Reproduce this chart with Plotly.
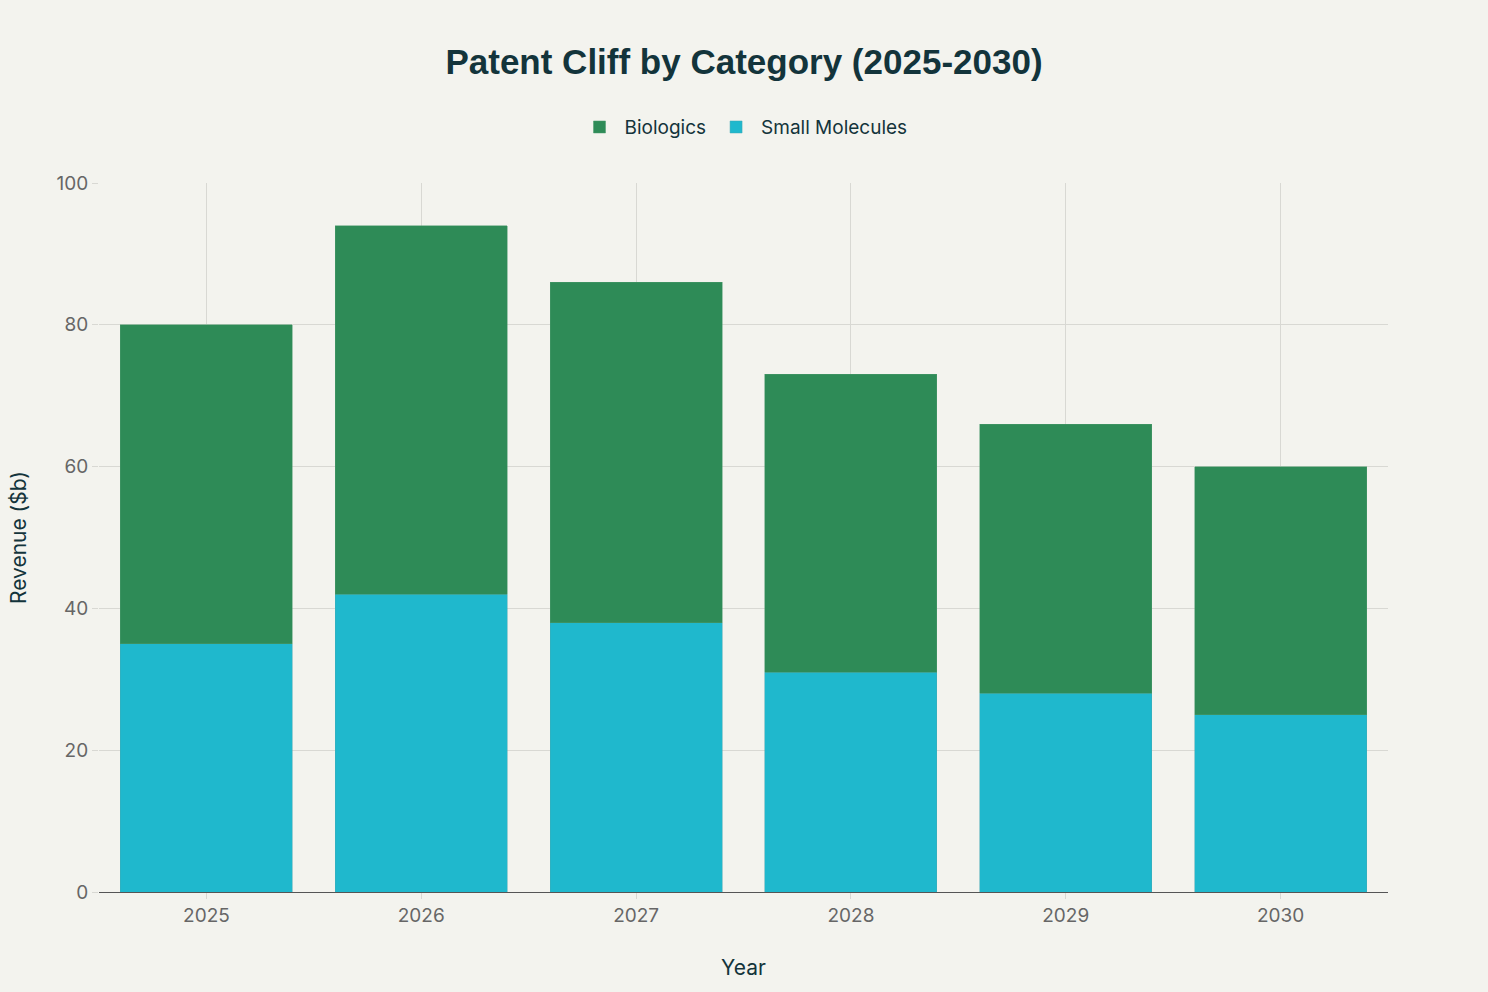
import plotly.graph_objects as go

years = ["2025", "2026", "2027", "2028", "2029", "2030"]
small_molecules = [35, 42, 38, 31, 28, 25]
biologics = [45, 52, 48, 42, 38, 35]

FONT = "Inter, Liberation Sans, sans-serif"

fig = go.Figure()
fig.add_trace(go.Bar(x=years, y=small_molecules, name="Small Molecules",
                     marker=dict(color="#1FB8CD", line=dict(color="#3fa9b5", width=0.5))))
fig.add_trace(go.Bar(x=years, y=biologics, name="Biologics",
                     marker=dict(color="#2E8B57", line=dict(color="#4a9a6c", width=0.5))))

fig.update_layout(
    width=1488, height=992,
    barmode="stack", bargap=0.2,
    paper_bgcolor="#F3F3EE", plot_bgcolor="#F3F3EE",
    margin=dict(l=99, r=100, t=183, b=100),
    font=dict(family=FONT, color="#13343B"),
    title=dict(text="<b>Patent Cliff by Category (2025-2030)</b>",
               x=0.5, xanchor="center", y=0.9375, yanchor="middle",
               font=dict(size=35, color="#13343B", family="Liberation Sans, Arial, sans-serif")),
    legend=dict(orientation="h", x=0.5, xanchor="center", y=1.052, yanchor="bottom",
                traceorder="reversed", itemwidth=40, font=dict(size=19, color="#13343B")),
    xaxis=dict(title=dict(text="Year", font=dict(size=21, color="#13343B"), standoff=34),
               tickfont=dict(size=19, color="#666666"),
               showgrid=True, gridcolor="#D8D8D3",
               showline=True, linecolor="#555555", linewidth=1,
               ticks="outside", tickcolor="#D8D8D3", ticklen=6),
    yaxis=dict(title=dict(text="Revenue ($b)", font=dict(size=21, color="#13343B"), standoff=24),
               tickfont=dict(size=19, color="#666666"),
               range=[0, 100], dtick=20,
               showgrid=True, gridcolor="#D8D8D3", zeroline=False,
               ticks="outside", tickcolor="#D8D8D3", ticklen=6),
)

fig.write_html("out.html", config={"displayModeBar": False},
               post_script="document.body.style.margin='0';document.body.style.overflow='hidden';")
